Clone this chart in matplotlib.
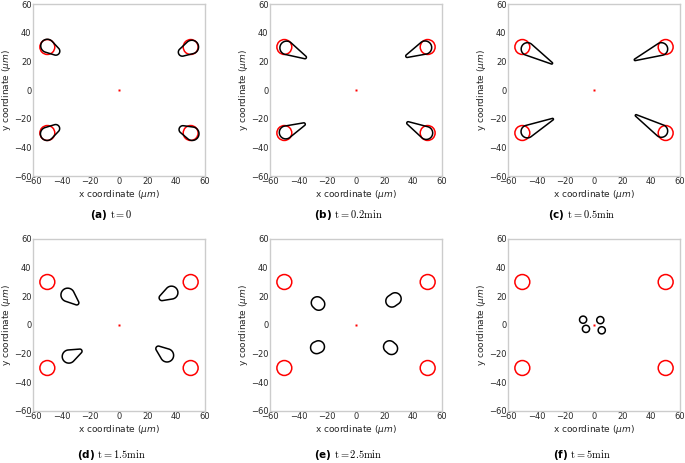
import numpy as np
import matplotlib
matplotlib.use('Agg')
import matplotlib.pyplot as plt
from matplotlib.patches import Circle, Polygon

panel_labels = ['(a)', '(b)', '(c)', '(d)', '(e)', '(f)']
panel_times = ['t=0', 't=0.2min', 't=0.5min', 't=1.5min', 't=2.5min', 't=5min']

# electrodes (red circles)
electrode_x = [-50, 50, -50, 50]
electrode_y = [30, 30, -30, -30]
electrode_r = 5.2

# cells: rounded head + tail, order TL, TR, BL, BR
head_x = [[-50.0, 50.8, -50.2, 51.1],
          [-48.4, 48.2, -49.0, 49.0],
          [-46.4, 47.0, -46.5, 47.0],
          [-35.8, 36.6, -35.0, 33.5],
          [-27.0, 27.3, -27.5, 24.8],
          [-7.6, 4.4, -5.6, 5.4]]
head_y = [[30.8, 30.0, -30.6, -30.5],
          [29.4, 29.6, -29.6, -30.0],
          [28.6, 28.6, -29.0, -28.6],
          [21.0, 22.6, -22.0, -21.2],
          [15.5, 18.3, -15.8, -16.4],
          [3.7, 3.4, -2.7, -3.7]]
head_r = [[4.6, 4.7, 4.6, 4.7],
          [4.7, 4.6, 4.5, 4.5],
          [4.4, 4.4, 4.4, 4.4],
          [4.7, 4.5, 4.6, 4.6],
          [4.2, 4.2, 4.2, 4.2],
          [2.5, 2.5, 2.5, 2.5]]
tail_x = [[-44.1, 44.2, -44.2, 44.6],
          [-35.6, 35.7, -36.4, 36.4],
          [-29.5, 28.7, -28.9, 29.4],
          [-29.5, 30.0, -27.3, 27.5],
          [-26.0, 25.0, -26.2, 23.4],
          [-7.6, 4.4, -5.6, 5.4]]
tail_y = [[27.1, 26.4, -26.9, -27.6],
          [22.8, 23.7, -23.9, -23.1],
          [18.7, 21.1, -20.4, -17.8],
          [15.5, 19.0, -18.3, -16.5],
          [14.5, 16.7, -15.2, -15.2],
          [3.7, 3.4, -2.7, -3.7]]
tail_r = [[2.8, 2.8, 2.8, 2.7],
          [1.0, 1.0, 1.0, 1.0],
          [0.6, 0.6, 0.6, 0.6],
          [1.5, 2.0, 1.5, 1.8],
          [4.2, 4.2, 4.2, 4.2],
          [2.5, 2.5, 2.5, 2.5]]

ticks = [-60, -40, -20, 0, 20, 40, 60]


def cell_outline(hx, hy, R, tx, ty, r):
    d = np.hypot(tx - hx, ty - hy)
    if d < 1e-6:
        a = np.linspace(0, 2 * np.pi, 120)
        return np.column_stack([hx + R * np.cos(a), hy + R * np.sin(a)])
    phi = np.arctan2(ty - hy, tx - hx)
    th = np.arccos(np.clip((R - r) / d, -1, 1))
    a1 = np.linspace(phi + th, phi + 2 * np.pi - th, 100)
    a2 = np.linspace(phi - th, phi + th, 40)
    head = np.column_stack([hx + R * np.cos(a1), hy + R * np.sin(a1)])
    tail = np.column_stack([tx + r * np.cos(a2), ty + r * np.sin(a2)])
    return np.vstack([head, tail])


def draw_panel(ax, i):
    for ex, ey in zip(electrode_x, electrode_y):
        ax.add_patch(Circle((ex, ey), electrode_r, fill=False, ec='red', lw=1.1))
    for j in range(len(head_x[i])):
        pts = cell_outline(head_x[i][j], head_y[i][j], head_r[i][j],
                           tail_x[i][j], tail_y[i][j], tail_r[i][j])
        ax.add_patch(Polygon(pts, closed=True, fill=False, ec='black', lw=1.1))
    ax.plot([0], [0], 's', ms=1.8, color='red', mec='none')
    ax.set_xlim(-60, 60)
    ax.set_ylim(-60, 60)
    ax.set_xticks(ticks)
    ax.set_yticks(ticks)
    ax.tick_params(length=0, pad=1.0, labelsize=6.0, colors='.15')
    for s in ax.spines.values():
        s.set_color('.8')
        s.set_linewidth(1.0)
    ax.set_xlabel(r'x coordinate ($\mu m$)', fontsize=6.5, color='.15', labelpad=1)
    ax.set_ylabel(r'y coordinate ($\mu m$)', fontsize=6.5, color='.15', labelpad=0.8)


fig = plt.figure(figsize=(6.85, 4.63), dpi=100)
W, H = 685.0, 463.0
lefts = [33, 270, 508]
tops = [4, 239]
size = 172
caption_y = [215, 455]
caption_x = [111, 348, 582]

for i in range(6):
    row, col = divmod(i, 3)
    ax = fig.add_axes([lefts[col] / W, 1 - (tops[row] + size) / H, size / W, size / H])
    draw_panel(ax, i)
    fig.text(caption_x[col] / W, 1 - caption_y[row] / H,
             panel_labels[i] + ' $\\mathrm{' + panel_times[i] + '}$',
             ha='center', va='center', fontsize=7.5, fontweight='bold',
             color='black', math_fontfamily='cm')

plt.savefig('out.png', dpi=100)
plt.close('all')
